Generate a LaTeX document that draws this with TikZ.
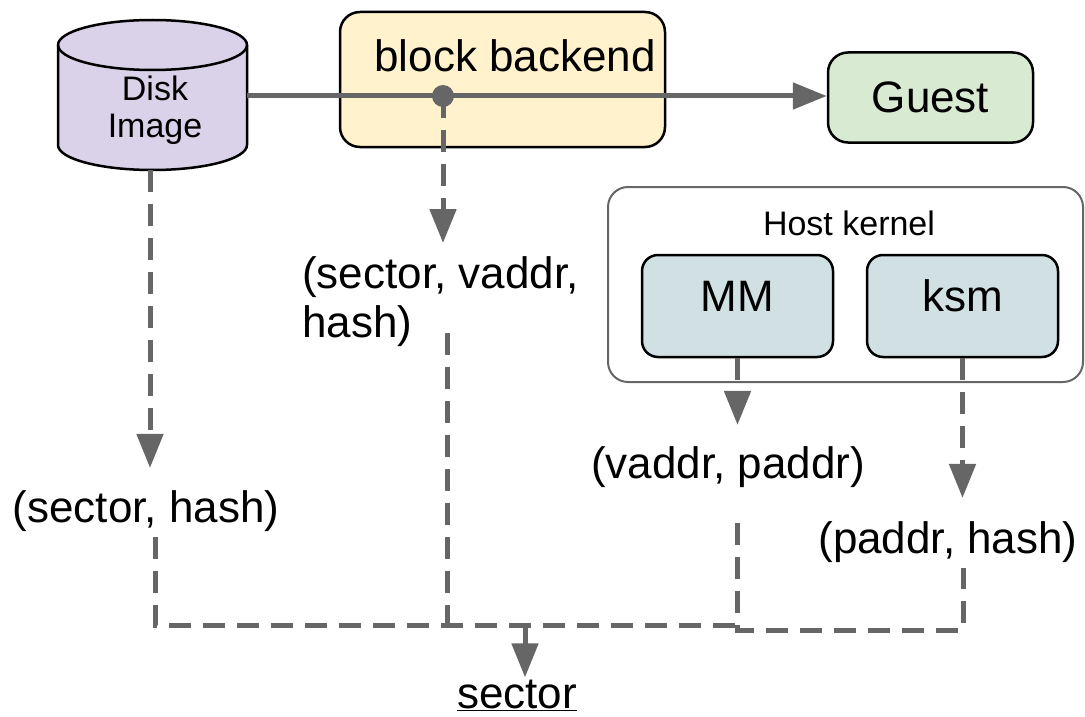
\documentclass[tikz,border=0pt]{standalone}
\usepackage{fontspec}
\setmainfont{Liberation Sans}
\usepackage{tikz}
\usetikzlibrary{arrows.meta}

\definecolor{flowgray}{HTML}{666666}
\definecolor{diskfill}{HTML}{D9D2E9}
\definecolor{backendfill}{HTML}{FFF2CC}
\definecolor{guestfill}{HTML}{D9EAD3}
\definecolor{kernfill}{HTML}{D0E0E3}

\newcommand{\bigfont}{\fontsize{44}{49}\selectfont}
\newcommand{\smallfont}{\fontsize{34}{37}\selectfont}

\begin{document}
\begin{tikzpicture}[x=1pt, y=-1pt, >={Triangle[length=34pt,width=26pt]},
    box/.style={draw=black, line width=2.5pt, rounded corners=20pt},
    flow/.style={draw=flowgray, line width=5pt},
    dflow/.style={flow, dash pattern=on 22pt off 12pt},
    tuple/.style={inner sep=0pt, font=\bigfont}]
        \useasboundingbox (0,0) rectangle (1085,717);

        % disk, backend, guest
        \node[minimum width=189pt, minimum height=150pt, inner sep=0pt] (disk) at (152.5,95) {};
        \draw[fill=diskfill, line width=2.5pt] (58,45) -- (58,145)
            arc[start angle=180, end angle=360, x radius=94.5pt, y radius=25pt] -- (247,45)
            arc[start angle=0, end angle=180, x radius=94.5pt, y radius=25pt] -- cycle;
        \draw[line width=2.5pt] (58,45) arc[start angle=180, end angle=360, x radius=94.5pt, y radius=25pt];
        \node[font=\smallfont, align=center, anchor=base] (disklbl) at (155,137) {Disk\\Image};
        \node[box, fill=backendfill, minimum width=325pt, minimum height=135pt] (backend) at (502.5,79.5) {};
        \node[font=\bigfont, anchor=base] (backendlbl) at (515,71) {block backend};
        \node[box, fill=guestfill, minimum width=205pt, minimum height=90pt, font=\bigfont] (guest) at (930.5,97.5) {Guest};

        % host kernel
        \node[draw=flowgray, line width=2pt, rounded corners=20pt, minimum width=475pt, minimum height=195pt] (host) at (845.5,284.5) {};
        \node[font=\smallfont, anchor=base] (hostlbl) at (849,235) {Host kernel};
        \node[box, rounded corners=16pt, fill=kernfill, minimum width=191pt, minimum height=102pt, font=\bigfont, text depth=20pt] (mm) at (737.5,306) {MM};
        \node[box, rounded corners=16pt, fill=kernfill, minimum width=191pt, minimum height=102pt, font=\bigfont, text depth=20pt] (ksm) at (962.5,306) {ksm};

        % tuples
        \node[tuple, anchor=base] (dlabel) at (146,522) {(sector, hash)};
        \node[tuple, anchor=north west, align=left] (vlabel) at (302,256) {(sector, vaddr,\\hash)};
        \node[tuple, anchor=base] (mlabel) at (728,478) {(vaddr, paddr)};
        \node[tuple, anchor=base] (klabel) at (948,553) {(paddr, hash)};
        \node[tuple, anchor=base] (seclbl) at (517,708) {\underline{sector}};

        \coordinate (tap) at (443,96);
        \coordinate (busl) at (155,625);
        \coordinate (busm) at (737,625);
        \coordinate (busr) at (963,630);
        \coordinate (sec) at (525,625);

        % data path
        \draw[flow,->] (disk.east |- tap) -- (guest.west |- tap);
        \fill[flowgray] (tap) circle[radius=11pt];

        % lookups
        \draw[dflow,->, shorten >=22pt] (disk.south -| 150,0) -- (dlabel.north -| 150,0);
        \draw[dflow,->, shorten >=13pt] (tap) -- (tap |- vlabel.north);
        \draw[dflow,->, shorten >=21pt] (mm.south) -- (mm.south |- mlabel.north);
        \draw[dflow,->, shorten >=23pt] (ksm.south) -- (ksm.south |- klabel.north);

        % join
        \draw[dflow, shorten <=6pt] (dlabel.south -| busl) -- (busl) -- (busm);
        \draw[dflow, shorten <=-13pt] (447,0 |- vlabel.south) -- (447,0 |- busl);
        \draw[dflow, shorten <=36pt, shorten >=6pt] (mlabel.south -| busm) -- (busm |- busr) -- (busr) -- (klabel.south -| busr);
        \draw[flow,->, shorten >=2pt] (sec) -- (sec |- seclbl.north);
    \end{tikzpicture}
\end{document}
